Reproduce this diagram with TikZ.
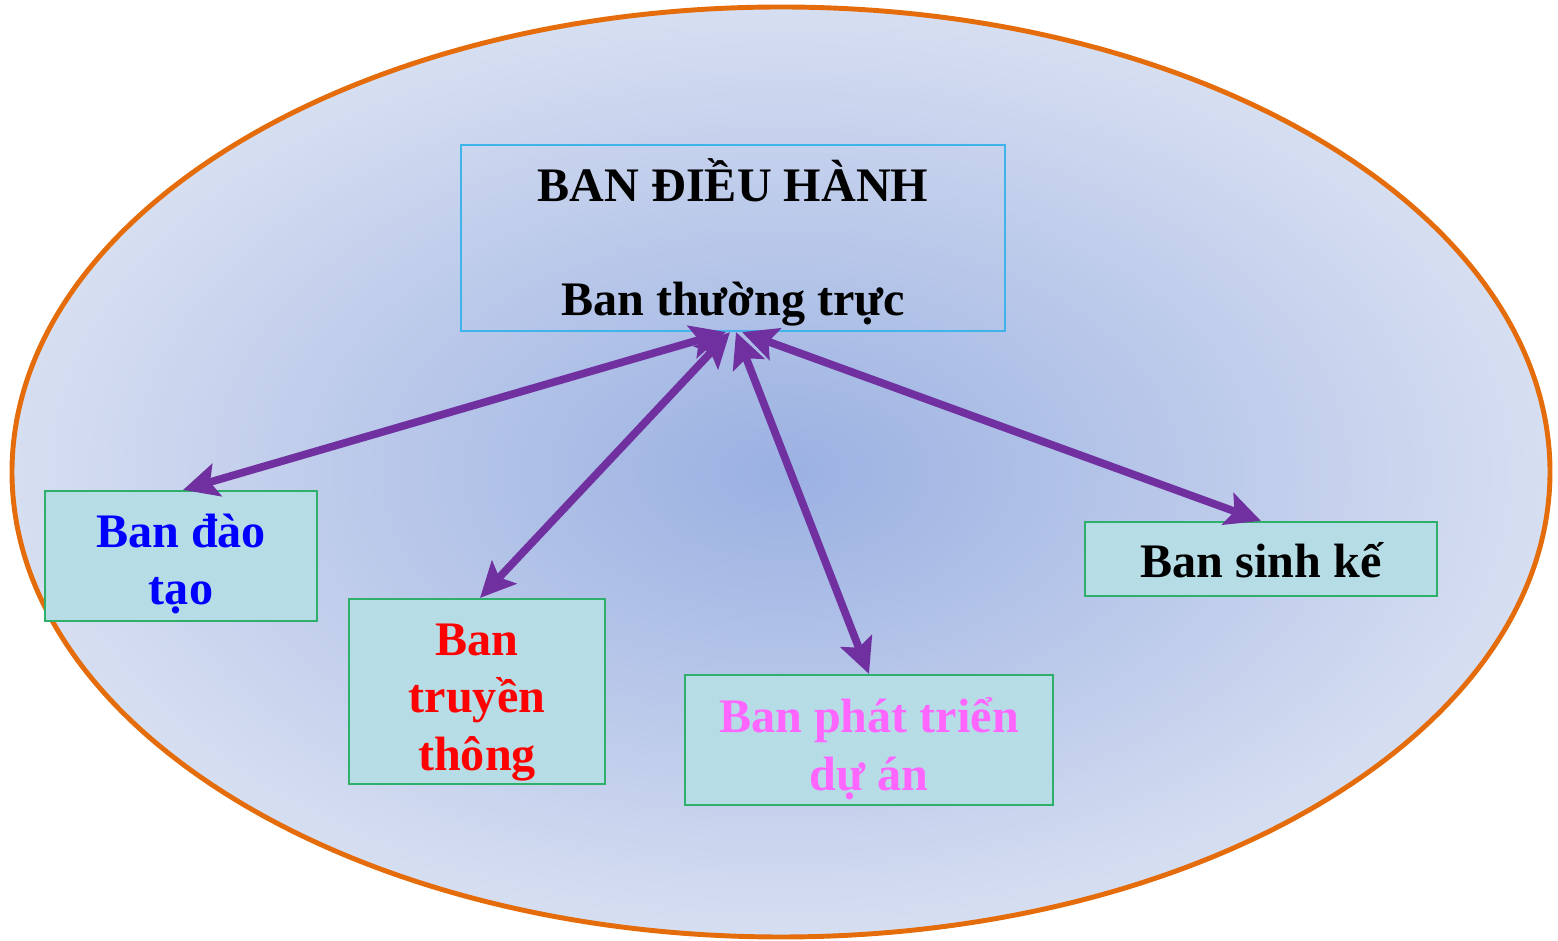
\documentclass[tikz,border=0pt]{standalone}
\usepackage{fontspec}
\setmainfont{Liberation Serif}
\usepackage{tikz}
\usetikzlibrary{arrows.meta}

\definecolor{ovalline}{HTML}{E46C0A}
\definecolor{ovalin}{HTML}{9BB1E2}
\definecolor{ovalout}{HTML}{D6DEF1}
\definecolor{topline}{HTML}{3FB4EA}
\definecolor{boxfill}{HTML}{B6DCE6}
\definecolor{boxline}{HTML}{2FB06A}
\definecolor{arrowpurple}{HTML}{7030A0}
\definecolor{pinktext}{HTML}{FF66FF}

\tikzset{
	banbox/.style={draw=boxline, fill=boxfill, line width=0.6pt, inner sep=0pt},
	bantext/.style={align=center, inner sep=0pt, font=\bfseries\fontsize{13.7}{16.4}\selectfont},
	linkarrow/.style={arrowpurple, line width=2.2pt, {Stealth[length=10pt,width=9.5pt,inset=2pt]}-{Stealth[length=10pt,width=9.5pt,inset=2pt]}}
}

\begin{document}
\begin{tikzpicture}
	\useasboundingbox (0, 0) rectangle (15.58, 9.41);
	\shade[inner color=ovalin, outer color=ovalout] (7.81, 4.69) ellipse (7.69 and 4.65);
	\draw[ovalline, line width=1.4pt] (7.81, 4.69) ellipse (7.69 and 4.65);

	\node[draw=topline, line width=0.6pt, inner sep=0pt, minimum width=5.44cm, minimum height=1.86cm] (top) at (7.33, 7.03) {};
	\node[bantext] (toptitle) at (7.33, 7.61) {BAN ĐIỀU HÀNH};
	\node[bantext] (topsub) at (7.33, 6.37) {Ban thường trực};

	\node[banbox, minimum width=2.72cm, minimum height=1.30cm] (dao) at (1.81, 3.85) {};
	\node[bantext, text=blue] at ([yshift=-0.08cm]dao) {Ban đào\\tạo};

	\node[banbox, minimum width=2.56cm, minimum height=1.85cm] (truyen) at (4.77, 2.495) {};
	\node[bantext, text=red] at ([yshift=-0.11cm]truyen) {Ban\\truyền\\thông};

	\node[banbox, minimum width=3.68cm, minimum height=1.30cm] (phat) at (8.69, 2.01) {};
	\node[bantext, text=pinktext] at ([yshift=-0.09cm]phat) {Ban phát triển\\dự án};

	\node[banbox, minimum width=3.52cm, minimum height=0.74cm] (sinh) at (12.61, 3.82) {};
	\node[bantext] at ([yshift=-0.01cm]sinh) {Ban sinh kế};

	\draw[linkarrow] ([xshift=-0.07cm]top.south) -- ([xshift=0.02cm]dao.north);
	\draw[linkarrow] ([xshift=-0.03cm]top.south) -- ([xshift=0.03cm]truyen.north);
	\draw[linkarrow] ([xshift=0.03cm]top.south) -- (phat.north);
	\draw[linkarrow] ([xshift=0.09cm]top.south) -- (sinh.north);
\end{tikzpicture}
\end{document}
